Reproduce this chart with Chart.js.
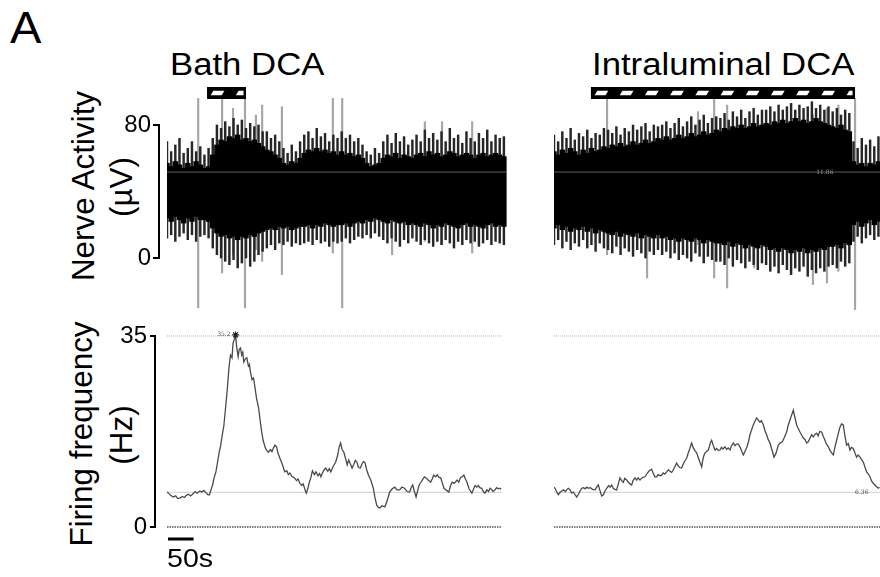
<!DOCTYPE html>
<html>
<head>
<meta charset="utf-8">
<script src="https://cdn.jsdelivr.net/npm/chart.js@4.4.1/dist/chart.umd.min.js"></script>
<style>
  html, body { margin:0; padding:0; background:#fff; }
  body { width:880px; height:577px; position:relative; overflow:hidden; font-family:"Liberation Sans", Arial, Helvetica, sans-serif; color:#000; }
  .box { position:absolute; }
  .box canvas { display:block; }
  .h { position:absolute; white-space:nowrap; line-height:1; transform-origin:0 0; }
  .r { position:absolute; width:0; height:0; }
  .r span { position:absolute; left:0; top:0; white-space:nowrap; line-height:1; font-size:31.4px; transform-origin:0 0; transform:rotate(-90deg) translate(-50%,-50%); }
</style>
</head>
<body>
<div class="h" style="left:10px;top:6px;font-size:44px;transform:scaleX(1.07)">A</div>
<div class="h" style="left:169.5px;top:49px;font-size:31px;transform:scaleX(1.12)">Bath DCA</div>
<div class="h" style="left:592px;top:49px;font-size:31px;transform:scaleX(1.12)">Intraluminal DCA</div>
<div class="r" style="left:84px;top:186px"><span>Nerve Activity</span></div>
<div class="r" style="left:122px;top:187px"><span>(µV)</span></div>
<div class="r" style="left:82px;top:434px"><span>Firing frequency</span></div>
<div class="r" style="left:122px;top:435px"><span>(Hz)</span></div>
<div class="box" style="left:0;top:80px;width:507px;height:240px"><canvas id="topL"></canvas></div>
<div class="box" style="left:554px;top:80px;width:326px;height:240px"><canvas id="topR"></canvas></div>
<div class="box" style="left:0;top:320px;width:507px;height:257px"><canvas id="botL"></canvas></div>
<div class="box" style="left:554px;top:320px;width:326px;height:257px"><canvas id="botR"></canvas></div>
<script>
// ---------------- DATA ----------------
const STEP = 8;                 // seconds between envelope samples
const TIME_MAX_L = 654, TIME_MAX_R = 627;
const NERVE_TICKS = [0, 80];
const FREQ_TICKS = [0, 35];
const THRESH = 51.7;            // threshold line in raw trace
const BASELINE = 6.36;          // baseline firing frequency line
const SCALE_BAR_S = 50;
const STIM_L = [77, 152];       // bath DCA (s)
const STIM_R = [71, 579];       // intraluminal DCA (s)

// Raw nerve trace envelopes (µV), left = Bath DCA
const leftCoreHi = [57,55,58,56,54,57,55,58,56, 54,55, 62,68,71,70,73,72,74,71,72,70,71,69,67, 65,64,62,60, 57,56,58,57,60,
  63,65,64,66,64,65,63,64,62, 64,62,63,61,62,60, 57,55,56,57, 60,62,61,63,60,62,61,60,
  62,63,61,64,62,63,61,62,64,63,61,62,63,62,60,62,63,61,62,63,62,61];
const leftTipHi = [70,64,68,72,63,66,70,64,67, 62,66, 72,80,78,82,79,84,80,83,78,81,79,80,76, 76,72,74,70, 66,63,68,64,70,
  74,76,72,78,73,75,70,74,72, 76,72,74,70,72,68, 64,62,66,63, 70,74,69,75,70,73,68,71,
  74,70,77,72,75,71,76,70,78,72,74,69,76,72,70,75,72,77,70,74,72,73];
const leftCoreLo = [24,22,25,23,21,24,22,25,23, 23,22, 18,15,13,14,12,13,11,13,12,14,13,15,16, 17,18,17,19, 18,19,17,18,19,
  19,20,18,20,19,21,20,19,20, 20,21,19,21,22,21, 23,22,24,23, 22,21,23,22,21,22,20,21,
  20,19,21,20,18,20,19,21,20,19,18,20,21,19,20,19,18,20,21,19,20,19];
const leftTipLo = [12,14,10,13,15,11,14,10,13, 14,12, 6,2,0,-2,-4,-1,-6,-3,0,-5,-2,2,4, 6,8,5,9, 8,10,7,9,8,
  9,10,8,11,9,10,7,10,9, 10,12,9,11,13,12, 14,12,15,13, 11,9,12,10,7,11,9,12,
  10,8,11,9,7,10,8,11,9,6,10,8,11,9,10,7,9,11,8,10,9,8];
const leftSpikeT  = [60, 106, 127, 150, 171, 183, 221, 319, 337, 433, 496, 529, 587];
const leftSpikeLo = [-30, -9, 2, -30, 5, -2, -10, 3, -30, 2, 10, 8, 3];
const leftSpikeHi = [96, 96, 90, 96, 86, 92, 91, 96, 96, 60, 82, 82, 82];

// right = Intraluminal DCA
const rightCoreHi = [64,62,65,63,66,64,62,65,63,66,64,65,67, 66,68,67,69,67,68,70,68,69,71,69,70,72,
  71,73,71,72,74,72,73,75,73,74,76,74,75,77, 76,78,77,79,78,80,78,79,81,79,80,
  81,80,82,81,83,81,82,84,82,83,81,82,84,82,81,80, 79,78,80,77,76, 58,56,57,55,57,56,58];
const rightTipHi = [74,70,76,72,78,71,75,73,77,72,75,74,78, 77,75,79,74,78,76,80,77,79,81,76,80,79,
  80,82,78,81,84,79,82,85,80,83,86,81,84,85, 84,87,83,88,85,89,84,88,90,86,89,
  89,91,88,92,89,91,93,89,92,90,91,94,90,92,89,91, 88,90,86,89,87, 70,66,72,68,71,67,73];
const rightCoreLo = [18,20,17,19,16,18,17,19,16,18,15,17,16, 15,14,16,13,15,14,13,15,12,14,13,12,14,
  12,13,11,12,10,12,11,10,12,11,9,11,10,9, 9,8,10,7,9,8,6,8,7,6,8,
  7,5,6,4,6,5,3,5,4,6,3,5,4,6,5,7, 7,8,6,9,8, 20,22,19,21,23,20,22];
const rightTipLo = [8,11,6,10,5,9,7,11,6,8,4,9,6, 5,3,7,2,6,4,1,5,3,0,4,2,5,
  2,4,0,3,-1,2,0,-2,3,1,-3,1,-1,-2, -2,-4,0,-5,-1,-3,-6,-2,-4,-7,-3,
  -4,-8,-5,-9,-4,-7,-10,-6,-8,-5,-11,-7,-9,-6,-8,-5, -4,-6,-2,-5,-3, 10,13,9,12,14,11,13];
const rightSpikeT  = [102, 179, 277, 308, 333, 385, 498, 525, 547, 579];
const rightSpikeLo = [2, -12, 8, -12, -18, -6, -16, -15, -8, -31];
const rightSpikeHi = [96, 60, 88, 96, 92, 80, 86, 90, 92, 96];

// Firing frequency (Hz)
const ffTimeL = [0,3,7,12,17,21,25,30,34,38,
  42,46,51,55,59,64,68,72,76,80,
  83,86,89,92,95.5,99,102,105,108,111,
  115,118,121,124,127,129,132,134,136,139,
  141,143.6,146,148,150,153,156,159,161,163,
  166,169,172,175,179,182,185,188,192,195,
  198,202,205,208,211,214,217,220.5,224,227,
  230,234,237,240,244,249,253,256,259,263,
  266,269,272,275,278,281,284,288,291,295,
  298,300.6,304,307,310,314,317,320,324,327,
  329.5,333,336,339,342,345.5,349,352,355,358,
  361.5,365,368,371,374,377.6,381,384,387,390,
  393.6,398,403,406,409.6,413,416,420,425.6,430,
  435,440,445,449,454.5,459,464,469,474,477,
  480,483,486.5,490,493,496,500,503,506,510,
  515,518,521,525,528,531,534.6,538,541,545,
  550.6,554,557,561,566.7,570,573,576.3,580,583,
  586,590,595.5,599,602,605,608,611,614.7,618,
  621,625,628,631,634,637,640.4,644,647,650,
  653];
const ffValL = [6.4,6.2,5.8,5.5,5.7,5.2,5.3,5.6,5.4,5.8,
  6.0,5.7,6.1,6.5,6.2,6.6,6.4,6.7,6.3,5.9,
  5.9,6.8,7.7,9.0,10.1,12.0,13.7,15.0,16.9,18.5,
  22.4,25.5,29.1,31.5,31.0,33.7,34.5,35.2,33.0,31.2,
  32.5,32.8,31.5,32.0,30.2,30.8,31.0,29.5,29.8,28.4,
  27.0,27.3,25.5,23.5,21.8,19.5,17.4,15.8,14.5,14.0,
  13.7,14.2,13.8,14.5,15.0,14.7,13.5,12.6,11.8,11.0,
  10.1,10.3,9.6,9.9,9.3,9.0,8.5,8.8,8.1,7.6,
  7.9,7.0,6.2,7.0,8.2,9.0,10.3,9.6,10.1,9.4,
  9.8,9.2,10.0,10.5,10.8,10.2,10.7,10.1,11.0,11.5,
  11.9,13.0,14.5,15.4,14.2,13.7,12.5,11.4,12.3,11.6,
  10.8,11.5,12.2,11.9,10.9,10.8,11.6,12.0,11.7,10.5,
  9.5,8.6,7.1,5.5,4.0,3.6,3.5,3.9,3.7,4.8,
  6.4,7.0,7.3,6.8,6.8,7.3,7.1,6.5,6.4,7.2,
  7.7,6.6,5.5,6.8,7.8,8.2,8.8,9.2,9.0,8.6,
  8.2,8.8,9.5,9.2,9.6,9.1,9.0,8.0,7.1,6.8,
  6.4,7.6,8.2,8.0,8.6,8.2,9.0,9.2,9.5,8.8,
  8.2,7.0,6.2,7.0,7.6,7.3,7.6,7.2,7.1,6.5,
  6.2,6.8,6.5,7.1,6.9,6.5,6.8,7.2,7.0,7.1,
  6.9];
const ffTimeR = [0,2,5,8.3,12,15,18,22,25,27.6,
  31,34,37.2,40,43.6,47,50,53.2,57,60,
  63,66,70,74,78.9,82,85.3,88,91.7,95,
  98,101.3,105,108,110.9,114,117,120.5,124,126.9,
  130,133.3,136,139.7,143,146,149.4,152,155.8,159,
  162,165.4,168,171,175,179,183,187.8,191,194,
  197.4,200,204,207,210,213,216.7,220,223,226.3,
  229,232,235.9,239,242,245.5,248,251,255.1,258,
  261,264.7,268,271,274.4,278,281,284,286,288,
  290.4,293,296.8,299,301,303.2,306,309.6,313,316,
  319.2,322,325,328.8,332,335,338.5,341,344.9,348,
  351,354.5,358,361,364.1,367,370.5,374,376.9,380,
  383.3,386,389.7,393,396.2,399,402.6,406,409,412,
  415.4,419,423.1,427,431.4,435,439.1,443,447.4,450,
  453.8,457,460.3,463,466.7,470,473.1,476,479.5,483,
  486,489.1,492,495.5,499,502,505.1,508,511,514.7,
  518,521.1,524,527.6,531,534,537.2,540,543.6,547,
  550,553,556.4,559,562.8,566,569.2,572,575.6,579,
  582,585,588.5,592,594.9,598,601.3,604,607.7,611,
  614,617.3,620,623.7,626];
const ffValR = [7.3,7.1,6.5,5.9,6.4,6.6,6.8,6.5,6.9,7.1,
  6.8,6.2,6.4,6.0,5.5,6.0,6.6,7.1,7.2,7.0,
  7.3,7.1,7.2,6.9,6.8,7.3,7.7,6.8,5.7,5.9,
  6.6,7.1,7.6,7.3,7.7,7.1,6.9,6.8,8.0,9.0,
  8.5,8.2,8.9,8.6,8.2,7.9,7.7,8.5,9.0,8.6,
  9.0,8.6,8.9,9.1,9.2,9.8,10.3,10.6,9.8,9.2,
  9.2,9.6,9.4,9.5,9.9,9.7,10.1,10.5,10.2,10.0,
  10.4,11.0,11.7,11.2,10.9,10.8,11.4,12.0,12.6,13.5,
  14.3,15.4,14.5,14.0,13.6,12.6,11.8,11.0,12.2,13.0,
  13.6,13.8,14.1,14.8,15.5,15.9,15.0,14.1,14.4,14.0,
  14.1,14.6,14.3,14.7,14.2,14.5,14.1,14.8,15.4,14.9,
  15.2,15.2,14.6,13.9,13.2,13.8,14.5,15.6,16.9,17.8,
  18.7,19.3,20.0,19.6,19.2,19.5,18.7,17.6,16.9,16.0,
  15.4,14.2,12.8,13.5,15.0,15.4,15.6,16.4,17.4,18.5,
  19.6,20.5,21.4,20.2,18.7,18.0,17.4,16.9,16.3,16.0,
  15.4,15.6,16.2,16.9,16.5,17.0,17.2,16.7,17.5,17.4,
  16.6,15.9,15.2,14.7,14.0,13.6,13.2,14.5,15.9,17.2,
  18.3,18.9,18.7,17.0,15.0,15.3,14.1,14.6,14.4,13.5,
  12.8,13.2,12.8,12.3,11.9,11.0,10.1,9.8,9.2,8.4,
  8.0,7.7,7.4,7.1,7.3];

// ---------------- RENDER ----------------
const FONT = '"Liberation Sans", Arial, Helvetica, sans-serif';
Chart.defaults.font.family = FONT;

const envData = (lo, hi) => lo.map((v, i) => ({ x: i * STEP, y: [v, hi[i]] }));
const spikeData = (t, lo, hi) => t.map((v, i) => ({ x: v, y: [lo[i], hi[i]] }));
const ptsData = (t, v) => t.map((x, i) => ({ x: x, y: v[i] }));
const hLine = (v, max) => [{ x: 0, y: v }, { x: max, y: v }];

function drawStim(ctx, xs, ca, t0, t1) {
  const x0 = xs.getPixelForValue(t0), x1 = xs.getPixelForValue(t1);
  const y0 = ca.top + 7, h = 12;
  ctx.fillStyle = '#000';
  ctx.fillRect(x0, y0, x1 - x0, h);
  ctx.save();
  ctx.beginPath(); ctx.rect(x0 + 2.5, y0 + 3.5, x1 - x0 - 5, h - 7); ctx.clip();
  ctx.fillStyle = '#fff';
  for (let x = x0 + 3.5; x < x1; x += 25.2) {
    ctx.beginPath();
    ctx.moveTo(x, y0 + h - 3.5); ctx.lineTo(x + 11, y0 + h - 3.5);
    ctx.lineTo(x + 14, y0 + 3.5); ctx.lineTo(x + 3, y0 + 3.5);
    ctx.closePath(); ctx.fill();
  }
  ctx.restore();
}

const deco = {
  id: 'deco',
  afterDatasetsDraw(chart, args, o) {
    const ctx = chart.ctx, xs = chart.scales.x, ys = chart.scales.y, ca = chart.chartArea;
    ctx.save();
    if (o.stim) drawStim(ctx, xs, ca, o.stim[0], o.stim[1]);
    if (o.bracket) {
      const bx = ca.left - o.bracket.gap;
      const yA = ys.getPixelForValue(o.bracket.ticks[0]);
      const yB = ys.getPixelForValue(o.bracket.ticks[1]);
      ctx.strokeStyle = '#000'; ctx.lineWidth = 2; ctx.lineCap = 'butt';
      ctx.beginPath();
      ctx.moveTo(bx - o.bracket.len, yB); ctx.lineTo(bx, yB); ctx.lineTo(bx, yA); ctx.lineTo(bx - o.bracket.len, yA);
      ctx.stroke();
    }
    if (o.scaleBar) {
      const x0 = xs.getPixelForValue(0), x1 = xs.getPixelForValue(o.scaleBar);
      ctx.fillStyle = '#000';
      ctx.fillRect(x0 + 1, ca.bottom + 5.5, x1 - x0, 3);
      ctx.save();
      ctx.translate(x0, ca.bottom + 35);
      ctx.scale(1.1, 1);
      ctx.font = '26px ' + FONT;
      ctx.textBaseline = 'alphabetic'; ctx.textAlign = 'left';
      ctx.fillText(o.scaleBar + 's', 0, 0);
      ctx.restore();
    }
    if (o.notes) {
      o.notes.forEach(n => {
        ctx.font = '6px "DejaVu Serif", serif';
        ctx.fillStyle = n.color; ctx.textAlign = n.align || 'center'; ctx.textBaseline = 'middle';
        ctx.fillText(n.text, xs.getPixelForValue(n.x) + (n.dx || 0), ys.getPixelForValue(n.y));
      });
    }
    ctx.restore();
  }
};

function yAxis(min, max, ticks, pad) {
  return {
    min: min, max: max, display: true,
    grid: { display: false, drawTicks: false }, border: { display: false },
    ticks: { color: '#000', font: { size: 24, family: FONT }, padding: pad, callback: v => String(v) },
    afterBuildTicks: s => { s.ticks = ticks.map(v => ({ value: v })); },
    afterFit: s => { s.width = 167; s.paddingTop = 0; s.paddingBottom = 0; }
  };
}

function options(xMax, y, decoOpts, pad) {
  return {
    responsive: true, maintainAspectRatio: false, animation: false, devicePixelRatio: 1,
    events: [],
    layout: { padding: pad || 0 },
    plugins: { legend: { display: false }, tooltip: { enabled: false }, deco: decoOpts },
    scales: {
      x: { type: 'linear', min: 0, max: xMax, offset: false, display: false },
      y: y
    }
  };
}

const TOP_MIN = -37.29, TOP_MAX = 107.07;
const BOT_MIN = -0.916, BOT_MAX = 36.83;

function topDatasets(cLo, cHi, tLo, tHi, sT, sLo, sHi, xMax) {
  return [
    { type: 'line', data: hLine(THRESH, xMax), borderColor: '#5c5c5c', borderWidth: 1, pointRadius: 0, order: 0 },
    { type: 'bar', data: envData(cLo, cHi), backgroundColor: '#000', barThickness: 4.8, grouped: false, order: 1 },
    { type: 'bar', data: envData(tLo, tHi), backgroundColor: '#262626', barThickness: 1.8, grouped: false, order: 2 },
    { type: 'bar', data: spikeData(sT, sLo, sHi), backgroundColor: '#a6a6a6', barThickness: 1.5, grouped: false, order: 3 }
  ];
}

new Chart(document.getElementById('topL'), {
  type: 'bar',
  data: { datasets: topDatasets(leftCoreLo, leftCoreHi, leftTipLo, leftTipHi, leftSpikeT, leftSpikeLo, leftSpikeHi, TIME_MAX_L) },
  options: options(TIME_MAX_L, yAxis(TOP_MIN, TOP_MAX, NERVE_TICKS, 16),
    { stim: STIM_L, bracket: { gap: 8, len: 6, ticks: NERVE_TICKS } }),
  plugins: [deco]
});

new Chart(document.getElementById('topR'), {
  type: 'bar',
  data: { datasets: topDatasets(rightCoreLo, rightCoreHi, rightTipLo, rightTipHi, rightSpikeT, rightSpikeLo, rightSpikeHi, TIME_MAX_R) },
  options: options(TIME_MAX_R, { min: TOP_MIN, max: TOP_MAX, display: false },
    { stim: STIM_R, notes: [{ text: '11.86', x: 521, y: THRESH, color: '#9a9a9a' }] }),
  plugins: [deco]
});

function botDatasets(t, v, xMax, extra) {
  const ds = [
    { data: ptsData(t, v), borderColor: '#4a4a4a', borderWidth: 1.3, pointRadius: 0, tension: 0, order: 0 },
    { data: hLine(FREQ_TICKS[1], xMax), borderColor: '#b5b5b5', borderWidth: 1, borderDash: [1, 1], pointRadius: 0, order: 2 },
    { data: hLine(BASELINE, xMax), borderColor: '#cfcfcf', borderWidth: 1, pointRadius: 0, order: 2 },
    { data: hLine(FREQ_TICKS[0], xMax), borderColor: '#555', borderWidth: 1.6, borderDash: [1.5, 1], pointRadius: 0, order: 2 }
  ];
  return ds.concat(extra || []);
}

const peakIdx = ffValL.indexOf(Math.max(...ffValL));
new Chart(document.getElementById('botL'), {
  type: 'line',
  data: { datasets: botDatasets(ffTimeL, ffValL, TIME_MAX_L, [
    { data: [{ x: ffTimeL[peakIdx], y: ffValL[peakIdx] }], showLine: false, pointStyle: 'star', pointRadius: 3.5, borderColor: '#222', borderWidth: 1.2, order: -1 }
  ]) },
  options: options(TIME_MAX_L, yAxis(BOT_MIN, BOT_MAX, FREQ_TICKS, 20),
    { bracket: { gap: 12, len: 5, ticks: FREQ_TICKS }, scaleBar: SCALE_BAR_S,
      notes: [{ text: ffValL[peakIdx].toFixed(1), x: ffTimeL[peakIdx], y: ffValL[peakIdx], dx: -5, align: 'right', color: '#444' }] },
    { top: 6, bottom: 45, left: 0, right: 0 }),
  plugins: [deco]
});

new Chart(document.getElementById('botR'), {
  type: 'line',
  data: { datasets: botDatasets(ffTimeR, ffValR, TIME_MAX_R) },
  options: options(TIME_MAX_R, { min: BOT_MIN, max: BOT_MAX, display: false },
    { notes: [{ text: String(BASELINE), x: 592, y: BASELINE, color: '#444' }] },
    { top: 6, bottom: 45, left: 0, right: 0 }),
  plugins: [deco]
});
</script>
</body>
</html>
